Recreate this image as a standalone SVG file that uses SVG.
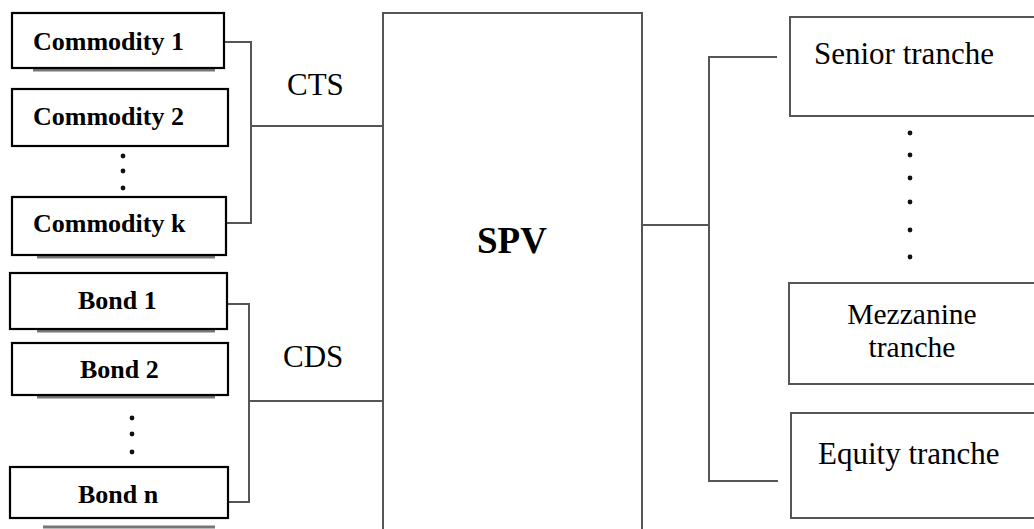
<svg xmlns="http://www.w3.org/2000/svg" width="1034" height="529" viewBox="0 0 1034 529">
<style>
.lbox{fill:#fff;stroke:#000;stroke-width:2.2}
.shadow{stroke:#777;stroke-width:3}
.rbox{fill:#fff;stroke:#555;stroke-width:2}
.bt{font-family:"Liberation Serif","Times New Roman",serif;font-weight:bold;font-size:26px;fill:#000}
.rt{font-family:"Liberation Serif","Times New Roman",serif;font-size:31px;fill:#000}
.mt{font-family:"Liberation Serif","Times New Roman",serif;font-size:29.5px;fill:#000}
.conn{fill:none;stroke:#555;stroke-width:2}
.dot{fill:#111}
</style>
<rect width="1034" height="529" fill="#fff"/>
<g id="connectors">
<polyline class="conn" points="224,42 251,42 251,223 226,223"/>
<line class="conn" x1="251" y1="126" x2="383" y2="126"/>
<polyline class="conn" points="227,304 249,304 249,502 228,502"/>
<line class="conn" x1="249" y1="401" x2="383" y2="401"/>
<line class="conn" x1="642" y1="225" x2="709" y2="225"/>
<polyline class="conn" points="777,57 709,57 709,481 778,481"/>
</g>
<g id="label-cts"><text class="rt" x="287" y="95">CTS</text></g>
<g id="label-cds"><text class="rt" x="283" y="367">CDS</text></g>
<g id="commodity1">
<line class="shadow" x1="33" y1="70" x2="215" y2="70"/>
<rect class="lbox" x="12" y="13" width="212" height="55"/>
<text class="bt" x="33" y="50">Commodity 1</text>
</g>
<g id="commodity2">
<rect class="lbox" x="12" y="89" width="216" height="57"/>
<text class="bt" x="33" y="125">Commodity 2</text>
</g>
<g id="commodity-dots">
<circle class="dot" cx="123" cy="156" r="2.4"/>
<circle class="dot" cx="123" cy="171" r="2.4"/>
<circle class="dot" cx="123" cy="188" r="2.4"/>
</g>
<g id="commodityk">
<line class="shadow" x1="37" y1="257" x2="215" y2="257"/>
<rect class="lbox" x="12" y="197" width="214" height="58"/>
<text class="bt" x="33" y="232">Commodity k</text>
</g>
<g id="bond1">
<line class="shadow" x1="37" y1="331" x2="215" y2="331"/>
<rect class="lbox" x="10" y="273" width="217" height="56"/>
<text class="bt" x="78" y="309">Bond 1</text>
</g>
<g id="bond2">
<line class="shadow" x1="37" y1="397" x2="215" y2="397"/>
<rect class="lbox" x="12" y="343" width="216" height="52"/>
<text class="bt" x="80" y="378">Bond 2</text>
</g>
<g id="bond-dots">
<circle class="dot" cx="132" cy="418" r="2.4"/>
<circle class="dot" cx="132" cy="434" r="2.4"/>
<circle class="dot" cx="132" cy="452" r="2.4"/>
</g>
<g id="bondn">
<line class="shadow" x1="43" y1="527" x2="215" y2="527"/>
<rect class="lbox" x="10" y="467" width="218" height="51"/>
<text class="bt" x="78" y="503">Bond n</text>
</g>
<g id="spv">
<rect class="rbox" x="383" y="13" width="259" height="530"/>
<text x="512" y="253" text-anchor="middle" style="font-family:'Liberation Serif','Times New Roman',serif;font-weight:bold;font-size:37px">SPV</text>
</g>
<g id="senior">
<rect class="rbox" x="790" y="17" width="260" height="99"/>
<text class="rt" x="814" y="64">Senior tranche</text>
</g>
<g id="tranche-dots">
<circle class="dot" cx="910" cy="133" r="2.4"/>
<circle class="dot" cx="910" cy="155" r="2.4"/>
<circle class="dot" cx="910" cy="178" r="2.4"/>
<circle class="dot" cx="910" cy="202" r="2.4"/>
<circle class="dot" cx="910" cy="230" r="2.4"/>
<circle class="dot" cx="910" cy="257" r="2.4"/>
</g>
<g id="mezzanine">
<rect class="rbox" x="789" y="283" width="260" height="101"/>
<text class="mt" x="912" y="324" text-anchor="middle">Mezzanine</text>
<text class="mt" x="912" y="357" text-anchor="middle">tranche</text>
</g>
<g id="equity">
<rect class="rbox" x="791" y="413" width="260" height="105"/>
<text class="rt" x="818" y="464">Equity tranche</text>
</g>
</svg>
